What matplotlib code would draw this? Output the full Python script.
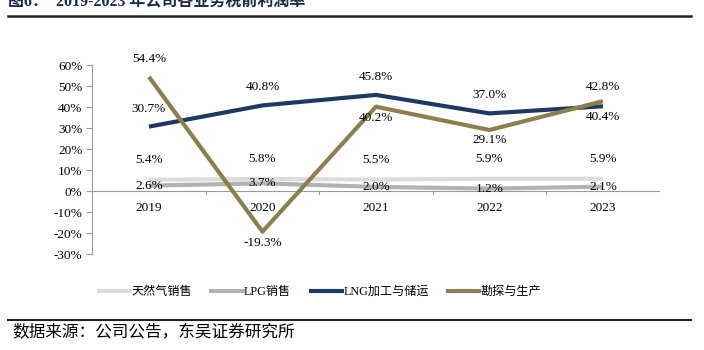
import matplotlib
matplotlib.use("Agg")
import matplotlib.pyplot as plt
from matplotlib.lines import Line2D

plt.rcParams['font.family'] = ['Liberation Serif', 'Noto Sans CJK SC']
plt.rcParams['axes.unicode_minus'] = False

years = ["2019", "2020", "2021", "2022", "2023"]
gas_sales = [5.4, 5.8, 5.5, 5.9, 5.9]
lpg_sales = [2.6, 3.7, 2.0, 1.2, 2.1]
lng_proc = [30.7, 40.8, 45.8, 37.0, 40.4]
explore = [54.4, -19.3, 40.2, 29.1, 42.8]
series_names = ["天然气销售", "LPG销售", "LNG加工与储运", "勘探与生产"]
yticks = [-30, -20, -10, 0, 10, 20, 30, 40, 50, 60]

colors = ["#dcdcdc", "#b2b2b2", "#1f3a60", "#8c7f4f"]

fig = plt.figure(figsize=(7.04, 3.5), dpi=100)
ax = fig.add_axes([0.131, 0.274, 0.806, 0.54])

x = list(range(len(years)))
lw = 3
ax.plot(x, gas_sales, color=colors[0], lw=lw, solid_capstyle='butt', zorder=2)
ax.plot(x, lpg_sales, color=colors[1], lw=lw, solid_capstyle='butt', zorder=3)
ax.plot(x, lng_proc, color=colors[2], lw=lw, solid_capstyle='butt', zorder=4)
ax.plot(x, explore, color=colors[3], lw=lw, solid_capstyle='butt', zorder=5)

fs = 9.5
def lab(i, v, dy):
    ax.annotate(f"{v:.1f}%", (i, v), xytext=(0, dy), textcoords='offset points',
                ha='center', va='center', fontsize=fs, color='#000000', zorder=10)

for i, v in enumerate(gas_sales):
    lab(i, v, 14)
for i, v in enumerate(lpg_sales):
    lab(i, v, 0)
lng_off = [13, 13, 13, 13, -8]
for i, v in enumerate(lng_proc):
    lab(i, v, lng_off[i])
exp_off = [13, -8, -8, -7, 10]
for i, v in enumerate(explore):
    lab(i, v, exp_off[i])

ax.set_xlim(-0.5, len(years) - 0.5)
ax.set_ylim(-30, 60)
ax.set_yticks(yticks)
ax.set_yticklabels([f"{t}%" for t in yticks], fontsize=fs)
ax.set_xticks([])
for sp in ['top', 'right', 'bottom']:
    ax.spines[sp].set_visible(False)
ax.spines['left'].set_color('#999999')
ax.spines['left'].set_linewidth(0.8)
ax.tick_params(axis='y', length=4, color='#999999', width=0.8, pad=3)
ax.axhline(0, color='#999999', lw=0.8, zorder=1)
for b in range(1, len(years)):
    ax.plot([b - 0.5, b - 0.5], [0, -1.5], color='#999999', lw=0.8, zorder=1, clip_on=False)
for i, yr in enumerate(years):
    ax.annotate(yr, (i, 0), xytext=(0, -12), textcoords='offset points',
                ha='center', va='center', fontsize=fs)

handles = [Line2D([0], [0], color=c, lw=lw) for c in colors]
fig.legend(handles, series_names, loc='center left', bbox_to_anchor=(0.125, 0.165),
           ncol=4, frameon=False, fontsize=8.7, handlelength=2.6, handletextpad=0.1,
           columnspacing=1.6)

fig.text(0.012, 0.995, "图6：  2019-2023 年公司各业务税前利润率", fontsize=11.5, fontweight='bold',
         color='#1a2a4a', ha='left', va='center')
fig.add_artist(Line2D([0.012, 0.982], [1 - 16/350, 1 - 16/350], color='#222222', lw=1.8))
fig.add_artist(Line2D([0.012, 0.982], [1 - 320/350, 1 - 320/350], color='#222222', lw=1.5))
fig.text(0.017, 1 - 333/350, "数据来源：公司公告，东吴证券研究所", fontsize=12, ha='left', va='center')

fig.savefig("out.png", dpi=100)
